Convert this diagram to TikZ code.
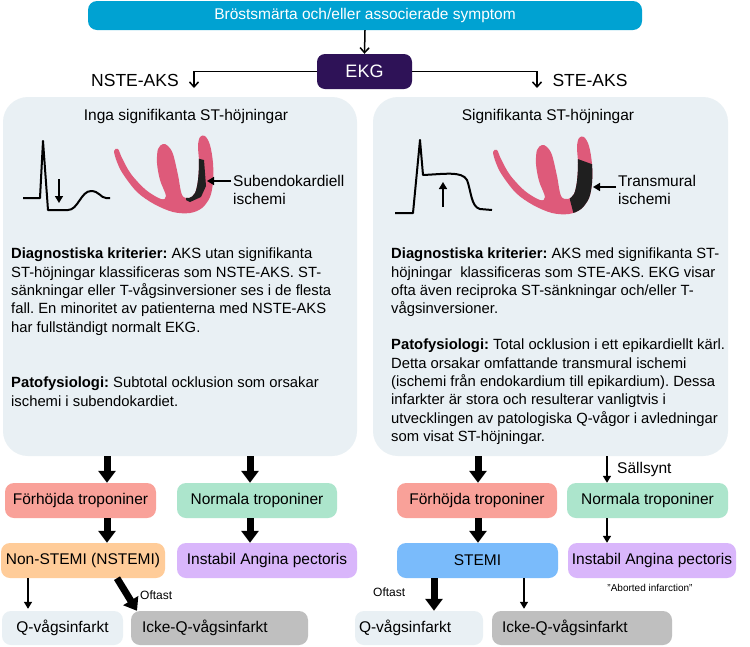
\documentclass[tikz,border=0pt]{standalone}
\usepackage{fontspec}
\setmainfont{Liberation Sans}
\usetikzlibrary{arrows.meta}
\definecolor{topblue}{RGB}{0,162,210}
\definecolor{ekgpurple}{RGB}{46,18,87}
\definecolor{panelbg}{RGB}{233,240,244}
\definecolor{heartpink}{RGB}{222,90,122}
\definecolor{salmon}{RGB}{249,161,153}
\definecolor{mint}{RGB}{172,229,204}
\definecolor{lightorange}{RGB}{255,204,153}
\definecolor{lavender}{RGB}{217,182,251}
\definecolor{stemiblue}{RGB}{122,187,251}
\definecolor{boxgray}{RGB}{191,191,191}
\newcommand{\hrtpath}{plot[smooth cycle, tension=0.55] coordinates {(114,151) (117,162) (123,174) (137,192) (154,204) (173,212) (190,213) (202,208) (210,197) (213,182) (213,163) (210,145) (205,136) (200,137) (198,146) (199,162) (198,180) (195,193) (189,198) (182,195) (178,175) (173,154) (168,146) (163,144) (158,149) (157,163) (160,180) (166,196) (161,199) (146,190) (131,174) (122,158) (118,149)}}
\frenchspacing
\begin{document}
\begin{tikzpicture}[x=1pt,y=-1pt,
 box/.style={rounded corners=9pt, minimum height=35pt, inner sep=0pt, font=\fontsize{15.5}{18}\selectfont, text=black},
 lbox/.style={box, align=left},
 thickarr/.style={line width=7pt, -{Triangle[width=17pt,length=12pt]}},
 thinarr/.style={line width=1.5pt, -{Triangle[width=8pt,length=7pt]}},
 barb/.style={line width=1.5pt, -{Straight Barb[width=9pt,length=5pt]}},
 ecg/.style={line width=2pt, line join=round},
 panel/.style={fill=panelbg, rounded corners=25pt, inner sep=0pt},
 body/.style={anchor=north west, inner sep=0pt, align=left, font=\fontsize{14.8}{18.3}\selectfont},
 lbl/.style={inner sep=0pt, font=\fontsize{15.5}{18}\selectfont},
]
\useasboundingbox[fill=white] (0,0) rectangle (750,646);

% top
\node[box, fill=topblue, text=white, minimum width=554pt, minimum height=29pt] (top) at (365,15.5) {Bröstsmärta och/eller associerade symptom};
\node[box, fill=ekgpurple, text=white, minimum width=95pt, rounded corners=8pt, font=\fontsize{18}{20}\selectfont] (ekg) at (364.5,71.5) {EKG};
\coordinate (nsteEnd) at (194,88);
\coordinate (steEnd) at (537,88);
\draw[barb] (top.south) -- (ekg.north);
\draw[barb] (ekg.west) -| (nsteEnd);
\draw[barb] (ekg.east) -| (steEnd);
\node[lbl, font=\fontsize{17.5}{20}\selectfont] (nstelbl) at (135,80) {NSTE-AKS};
\node[lbl, font=\fontsize{17.5}{20}\selectfont] (stelbl) at (590,80) {STE-AKS};

% panels
\node[panel, minimum width=354pt, minimum height=359pt] (panelL) at (180,276.5) {};
\node[panel, minimum width=355pt, minimum height=359pt] (panelR) at (550.5,276.5) {};
\node[lbl] (titleL) at (186,116) {Inga signifikanta ST-höjningar};
\node[lbl] (titleR) at (548,116) {Signifikanta ST-höjningar};

% ECG left
\draw[ecg] (23,198) -- (40,198) -- (43,141) -- (48,210) -- (68,210) .. controls (78,210) and (81,191) .. (91,191) .. controls (99,191) and (101,198) .. (106,198) -- (110,198);
\coordinate (ea1s) at (59,179);
\coordinate (ea1e) at (59,203);
\draw[thinarr] (ea1s) -- (ea1e);
% ECG right
\draw[ecg] (395,213) -- (413,213) -- (420,140) -- (423,175) .. controls (445,174) and (462,171) .. (467,180) .. controls (471,190) and (471,207) .. (480,209) -- (492,210);
\coordinate (ea2s) at (443,207);
\coordinate (ea2e) at (443,182);
\draw[thinarr] (ea2s) -- (ea2e);

% heart left
\fill[heartpink] \hrtpath;
\begin{scope}
\clip \hrtpath;
\fill[black!88] (188,156) -- (204,160) -- (206,186) -- (201,197) -- (190,202) -- (186,200) -- cycle;
\end{scope}
% heart right
\begin{scope}[shift={(379,1)}]
\fill[heartpink] \hrtpath;
\begin{scope}
\clip \hrtpath;
\fill[black!88] (196,157) -- (218,165) -- (218,222) -- (197,222) -- (191,199) -- (194,175) -- cycle;
\end{scope}
\end{scope}

\node[lbl, anchor=north west, align=left] (subl) at (233,175) {Subendokardiell\\ischemi};
\node[lbl, anchor=north west, align=left] (trl) at (618,175) {Transmural\\ischemi};
\coordinate (hs1) at (231,181);
\coordinate (he1) at (207,181);
\draw[thinarr] (hs1) -- (he1);
\coordinate (hs2) at (616,187);
\coordinate (he2) at (593,187);
\draw[thinarr] (hs2) -- (he2);

% body texts
\node[body] (diagL) at (11,248) {\textbf{Diagnostiska kriterier:} AKS utan signifikanta\\ST-höjningar klassificeras som NSTE-AKS. ST-\\sänkningar eller T-vågsinversioner ses i de flesta\\fall. En minoritet av patienterna med NSTE-AKS\\har fullständigt normalt EKG.};
\node[body] (patoL) at (11,377) {\textbf{Patofysiologi:} Subtotal ocklusion som orsakar\\ischemi i subendokardiet.};
\node[body] (diagR) at (391,248) {\textbf{Diagnostiska kriterier:} AKS med signifikanta ST-\\höjningar\ \ klassificeras som STE-AKS. EKG visar\\ofta även reciproka ST-sänkningar och/eller T-\\vågsinversioner.};
\node[body] (patoR) at (391,339) {\textbf{Patofysiologi:} Total ocklusion i ett epikardiellt kärl.\\Detta orsakar omfattande transmural ischemi\\(ischemi från endokardium till epikardium). Dessa\\infarkter är stora och resulterar vanligtvis i\\utvecklingen av patologiska Q-vågor i avledningar\\som visat ST-höjningar.};

% bottom boxes left
\node[box, fill=salmon, minimum width=151pt] (f1) at (80.5,500.5) {Förhöjda troponiner};
\node[box, fill=mint, minimum width=160pt] (n1) at (257,500.5) {Normala troponiner};
\node[box, fill=lightorange, minimum width=164pt] (nst) at (83,560.5) {Non-STEMI (NSTEMI)};
\node[box, fill=lavender, minimum width=180pt] (ia1) at (267,560.5) {Instabil Angina pectoris};
\node[box, fill=panelbg, minimum width=121pt, minimum height=34pt] (q1) at (62.5,628) {Q-vågsinfarkt};
\node[lbox, fill=boxgray, inner xsep=11pt, text width=155pt, minimum height=34pt] (iq1) at (219.5,628) {Icke-Q-vågsinfarkt};
% bottom boxes right
\node[box, fill=salmon, minimum width=160pt] (f2) at (477,500.5) {Förhöjda troponiner};
\node[box, fill=mint, minimum width=161pt] (n2) at (647.5,500.5) {Normala troponiner};
\node[box, fill=stemiblue, minimum width=161pt] (stemi) at (477.5,560.5) {STEMI};
\node[box, fill=lavender, minimum width=168pt] (ia2) at (652,560.5) {Instabil Angina pectoris};
\node[lbox, fill=panelbg, inner xsep=4pt, text width=120pt, minimum height=34pt] (q2) at (419,628) {Q-vågsinfarkt};
\node[lbox, fill=boxgray, inner xsep=10pt, text width=160pt, minimum height=34pt] (iq2) at (582,628) {Icke-Q-vågsinfarkt};

% arrow x positions
\coordinate (xL1) at (107,0);
\coordinate (xL2) at (250,0);
\coordinate (xLq) at (28,0);
\coordinate (xLd1) at (117,0);
\coordinate (xLd2) at (137,0);
\coordinate (xR1) at (478,0);
\coordinate (xR2) at (607,0);
\coordinate (xRq) at (434,0);
\coordinate (xRi) at (524,0);

\draw[thickarr] (panelL.south -| xL1) -- (f1.north -| xL1);
\draw[thickarr] (panelL.south -| xL2) -- (n1.north -| xL2);
\draw[thickarr] (f1.south -| xL1) -- (nst.north -| xL1);
\draw[thickarr] (n1.south -| xL2) -- (ia1.north -| xL2);
\draw[thinarr, shorten >=2pt] (nst.south -| xLq) -- (q1.north -| xLq);
\draw[thickarr] (nst.south -| xLd1) -- (iq1.north -| xLd2);
\node[inner sep=0pt, anchor=west, font=\fontsize{12}{14}\selectfont] (oft1) at (140,595) {Oftast};

\draw[thickarr] (panelR.south -| xR1) -- (f2.north -| xR1);
\draw[thinarr] (panelR.south -| xR2) -- (n2.north -| xR2);
\node[lbl, anchor=west] (sall) at (617,469) {Sällsynt};
\draw[thickarr] (f2.south -| xR1) -- (stemi.north -| xR1);
\draw[thinarr] (n2.south -| xR2) -- (ia2.north -| xR2);
\node[inner sep=0pt, font=\fontsize{10}{12}\selectfont] (abort) at (650,588) {"Aborted infarction"};
\draw[thickarr] (stemi.south -| xRq) -- (q2.north -| xRq);
\draw[thinarr, shorten >=2pt] (stemi.south -| xRi) -- (iq2.north -| xRi);
\node[inner sep=0pt, anchor=west, font=\fontsize{12}{14}\selectfont] (oft2) at (373,592) {Oftast};
\end{tikzpicture}
\end{document}
